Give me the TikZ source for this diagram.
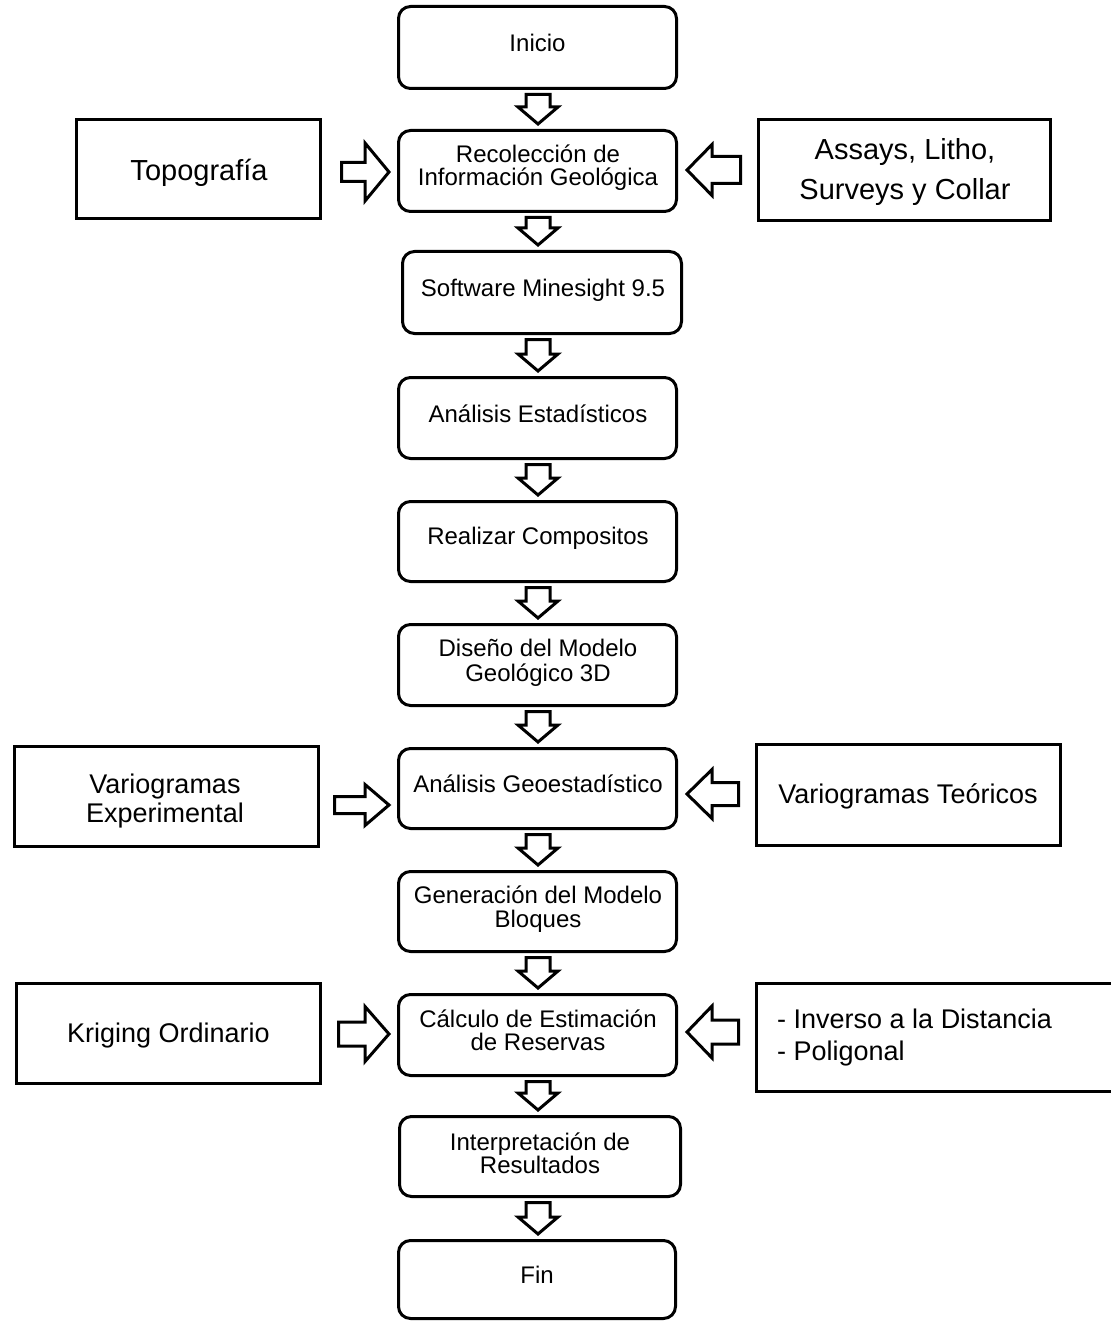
\documentclass[tikz,border=0pt]{standalone}
\usepackage{fontspec}
\setmainfont{Liberation Sans}
\usetikzlibrary{calc}
\tikzset{
  mbox/.style={draw, line width=3pt, rounded corners=12pt, inner sep=0pt},
  sbox/.style={draw, line width=3pt, inner sep=0pt},
  blk/.style={draw, line width=3pt, line join=miter, fill=white},
  mtxt/.style={anchor=base, inner sep=0pt, font=\fontsize{24}{24}\selectfont},
  stxt/.style={anchor=base, inner sep=0pt, font=\fontsize{29}{29}\selectfont},
  ltxt/.style={anchor=base, inner sep=0pt, font=\fontsize{27}{27}\selectfont},
}
% style, name, left, right, top, bottom (outer edges, px)
\newcommand\mkbox[6]{%
  \node[#1, minimum width={(#4-#3-3)*1pt}, minimum height={(#6-#5-3)*1pt}] (#2) at ({(#3+#4)/2},{(#5+#6)/2}) {};}
% vertical block arrow: from, to, x
\newcommand\varr[3]{%
  \draw[blk] let \p1=(#1.south), \p2=(#2.north) in
  ({#3pt-12pt},{\y1-4.5pt}) -- ({#3pt+12pt},{\y1-4.5pt}) -- ({#3pt+12pt},{\y2+22pt}) --
  ({#3pt+20pt},{\y2+22pt}) -- ({#3pt},{\y2+5pt}) -- ({#3pt-20pt},{\y2+22pt}) --
  ({#3pt-12pt},{\y2+22pt}) -- cycle;}
% right-pointing: from, to, yc, gap, shaft half, head half
\newcommand\rarr[6]{%
  \draw[blk] let \p1=(#1.east), \p2=(#2.west) in
  ({\x1+#4pt},{-#3pt+#5pt}) -- ({\x2-32pt},{-#3pt+#5pt}) -- ({\x2-32pt},{-#3pt+#6pt}) --
  ({\x2-8pt},{-#3pt}) -- ({\x2-32pt},{-#3pt-#6pt}) -- ({\x2-32pt},{-#3pt-#5pt}) --
  ({\x1+#4pt},{-#3pt-#5pt}) -- cycle;}
% left-pointing: from, to, yc, gap, shaft half, head half
\newcommand\larr[6]{%
  \draw[blk] let \p1=(#1.west), \p2=(#2.east) in
  ({\x1-#4pt},{-#3pt+#5pt}) -- ({\x2+34pt},{-#3pt+#5pt}) -- ({\x2+34pt},{-#3pt+#6pt}) --
  ({\x2+9pt},{-#3pt}) -- ({\x2+34pt},{-#3pt-#6pt}) -- ({\x2+34pt},{-#3pt-#5pt}) --
  ({\x1-#4pt},{-#3pt-#5pt}) -- cycle;}
\begin{document}
\begin{tikzpicture}[x=1pt, y=-1pt]
\fill[white] (0,0) rectangle (1110,1321);
\useasboundingbox (0,0) rectangle (1110,1321);
% main column
\mkbox{mbox}{ini}{397}{678}{5}{90}
\mkbox{mbox}{recol}{397}{678}{129}{213}
\mkbox{mbox}{soft}{401}{683}{250}{335}
\mkbox{mbox}{aest}{397}{678}{376}{460}
\mkbox{mbox}{comp}{397}{678}{500}{583}
\mkbox{mbox}{dis}{397}{678}{623}{707}
\mkbox{mbox}{ageo}{397}{678}{747}{830}
\mkbox{mbox}{gen}{397}{678}{870}{953}
\mkbox{mbox}{calc}{397}{678}{993}{1077}
\mkbox{mbox}{interp}{398}{682}{1115}{1198}
\mkbox{mbox}{fin}{397}{677}{1239}{1320}
% side boxes
\mkbox{sbox}{topo}{75}{322}{118}{220}
\mkbox{sbox}{assay}{757}{1052}{118}{222}
\mkbox{sbox}{vexp}{13}{320}{745}{848}
\mkbox{sbox}{vteo}{755}{1062}{743}{847}
\mkbox{sbox}{krig}{15}{322}{982}{1085}
\mkbox{sbox}{inv}{755}{1116}{982}{1093}
% texts
\node[mtxt] (tini) at (537.5,52) {Inicio};
\node[mtxt] (trecolA) at (538,163) {Recolección de};
\node[mtxt] (trecolB) at (538,186) {Información Geológica};
\node[mtxt] (tsoft) at (543,297) {Software Minesight 9.5};
\node[mtxt] (taest) at (538,422) {Análisis Estadísticos};
\node[mtxt] (tcomp) at (538,544) {Realizar Compositos};
\node[mtxt] (tdisA) at (538,656) {Diseño del Modelo};
\node[mtxt] (tdisB) at (538,681) {Geológico 3D};
\node[mtxt] (tageo) at (538,792) {Análisis Geoestadístico};
\node[mtxt] (tgenA) at (538,903) {Generación del Modelo};
\node[mtxt] (tgenB) at (538,927) {Bloques};
\node[mtxt] (tcalcA) at (538,1027) {Cálculo de Estimación};
\node[mtxt] (tcalcB) at (538,1050) {de Reservas};
\node[mtxt] (tinterpA) at (540,1150) {Interpretación de};
\node[mtxt] (tinterpB) at (540,1173) {Resultados};
\node[mtxt] (tfin) at (537,1283) {Fin};
\node[stxt] (ttopo) at (199,181) {Topografía};
\node[stxt] (tassayA) at (905,160) {Assays, Litho,};
\node[stxt] (tassayB) at (905,200) {Surveys y Collar};
\node[ltxt] (tvexpA) at (165,793) {Variogramas};
\node[ltxt] (tvexpB) at (165,822) {Experimental};
\node[ltxt] (tvteo) at (908,803) {Variogramas Teóricos};
\node[ltxt] (tkrig) at (168.5,1042) {Kriging Ordinario};
\node[ltxt, anchor=base west] (tinvA) at (777,1028) {- Inverso a la Distancia};
\node[ltxt, anchor=base west] (tinvB) at (777,1060) {- Poligonal};
% vertical arrows
\varr{ini}{recol}{538}
\varr{recol}{soft}{538}
\varr{soft}{aest}{538}
\varr{aest}{comp}{538}
\varr{comp}{dis}{538}
\varr{dis}{ageo}{538}
\varr{ageo}{gen}{538}
\varr{gen}{calc}{538}
\varr{calc}{interp}{538}
\varr{interp}{fin}{538}
% side arrows
\rarr{topo}{recol}{172}{19.5}{9.5}{29}
\rarr{vexp}{ageo}{805}{14.5}{8.5}{20.5}
\rarr{krig}{calc}{1034}{16.5}{12}{27.5}
\larr{assay}{recol}{170}{16.5}{13.5}{25.5}
\larr{vteo}{ageo}{794}{16.5}{11.5}{24.5}
\larr{inv}{calc}{1032}{16.5}{12}{26}
\end{tikzpicture}
\end{document}
